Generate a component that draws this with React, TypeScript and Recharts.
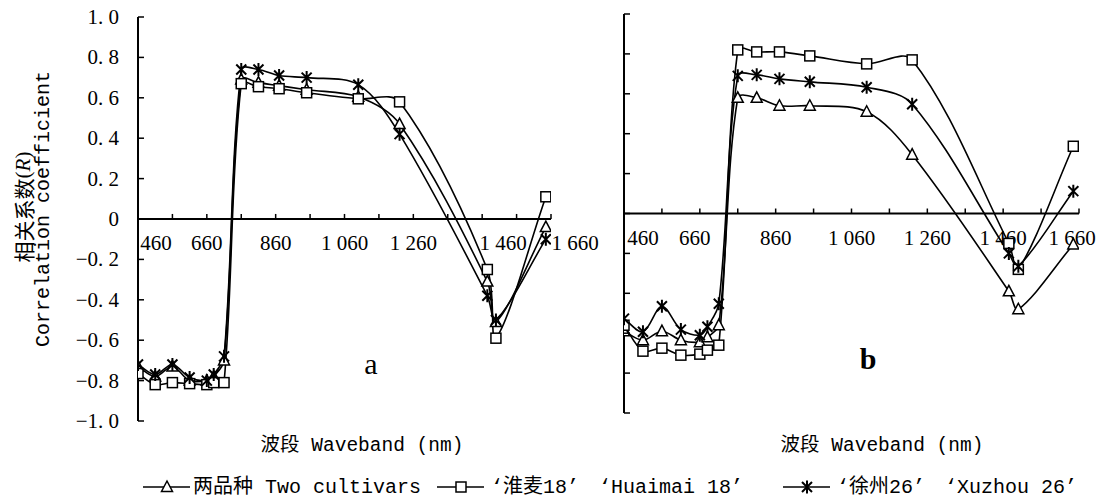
import React from 'react';
import { LineChart, Line, XAxis, YAxis, ReferenceLine, ReferenceDot } from 'recharts';

// ---------- data ----------
const wavelengths = [460, 510, 560, 610, 660, 680, 710, 760, 810, 870, 950, 1100, 1220, 1475, 1500, 1645];

// panel a
const aTwoCultivars = [-0.73, -0.78, -0.73, -0.8, -0.8, -0.78, -0.7, 0.69, 0.675, 0.66, 0.64, 0.605, 0.47, -0.31, -0.51, -0.04];
const aHuaimai18 = [-0.765, -0.82, -0.81, -0.815, -0.82, -0.81, -0.81, 0.67, 0.655, 0.645, 0.625, 0.595, 0.58, -0.25, -0.59, 0.11];
const aXuzhou26 = [-0.72, -0.77, -0.72, -0.785, -0.8, -0.77, -0.68, 0.74, 0.74, 0.71, 0.7, 0.665, 0.42, -0.38, -0.5, -0.1];

// panel b
const bTwoCultivars = [-0.59, -0.635, -0.59, -0.635, -0.645, -0.62, -0.56, 0.58, 0.58, 0.54, 0.54, 0.51, 0.295, -0.39, -0.48, -0.155];
const bHuaimai18 = [-0.56, -0.69, -0.675, -0.71, -0.705, -0.685, -0.66, 0.82, 0.81, 0.81, 0.79, 0.75, 0.77, -0.15, -0.28, 0.337];
const bXuzhou26 = [-0.527, -0.593, -0.465, -0.582, -0.61, -0.568, -0.452, 0.69, 0.695, 0.675, 0.66, 0.633, 0.548, -0.2, -0.265, 0.112];

const yTicks = [-1, -0.8, -0.6, -0.4, -0.2, 0, 0.2, 0.4, 0.6, 0.8, 1];
const xTickMarks = [460, 560, 660, 760, 860, 960, 1060, 1160, 1260, 1360, 1460, 1560, 1660];
const xTickLabels = [460, 660, 860, 1060, 1260, 1460, 1660];

const seriesNames = ['两品种 Two cultivars', '‘淮麦18’ ‘Huaimai 18’', '‘徐州26’ ‘Xuzhou 26’'];
const xAxisTitle = '波段 Waveband (nm)';
const yTitleCn = '相关系数';
const yTitleEn = 'Correlation coefficient';

// ---------- styles ----------
const MONO = "'Liberation Mono', 'Noto Sans CJK SC', monospace";
const SERIF = "'Liberation Serif', 'Noto Sans CJK SC', serif";
const CJK = "'Noto Sans CJK SC', sans-serif";

// label nudges (px) for the hand-placed tick labels of each panel
const labelShiftA: Record<number, number> = { 460: 18, 1460: 21, 1660: 24 };
const labelShiftB: Record<number, number> = { 460: 19, 660: -5, 1660: -7 };

const buildRows = (two: number[], huai: number[], xu: number[]) =>
  wavelengths.map((x, i) => ({ x, two: two[i], huai: huai[i], xu: xu[i] }));

const rowsA = buildRows(aTwoCultivars, aHuaimai18, aXuzhou26);
const rowsB = buildRows(bTwoCultivars, bHuaimai18, bXuzhou26);

// Excel-like smoothed line (chord-weighted Catmull-Rom)
function excelSmooth(context: any) {
  let pts: number[][] = [];
  return {
    areaStart() {},
    areaEnd() {},
    lineStart() {
      pts = [];
    },
    point(x: number, y: number) {
      pts.push([+x, +y]);
    },
    lineEnd() {
      const n = pts.length;
      if (!n) return;
      context.moveTo(pts[0][0], pts[0][1]);
      for (let i = 0; i < n - 1; i++) {
        const p0 = pts[i - 1] || pts[i];
        const p1 = pts[i];
        const p2 = pts[i + 1];
        const p3 = pts[i + 2] || pts[i + 1];
        const d01 = Math.hypot(p1[0] - p0[0], p1[1] - p0[1]);
        const d12 = Math.hypot(p2[0] - p1[0], p2[1] - p1[1]);
        const d23 = Math.hypot(p3[0] - p2[0], p3[1] - p2[1]);
        const f1 = d01 + d12 > 0 ? d12 / (3 * (d01 + d12)) : 0;
        const f2 = d12 + d23 > 0 ? d12 / (3 * (d12 + d23)) : 0;
        context.bezierCurveTo(
          p1[0] + (p2[0] - p0[0]) * f1,
          p1[1] + (p2[1] - p0[1]) * f1,
          p2[0] - (p3[0] - p1[0]) * f2,
          p2[1] - (p3[1] - p1[1]) * f2,
          p2[0],
          p2[1]
        );
      }
    },
  };
}

// ---------- markers ----------
const triPath = (cx: number, cy: number) =>
  `M${cx},${cy - 6} L${cx + 5.5},${cy + 4.5} L${cx - 5.5},${cy + 4.5} Z`;
const starPath = (cx: number, cy: number) =>
  `M${cx - 5},${cy - 5} L${cx + 5},${cy + 5} M${cx + 5},${cy - 5} L${cx - 5},${cy + 5} M${cx},${cy - 6.5} L${cx},${cy + 6.5}`;

const TriangleDot = (p: any) => {
  if (p.cx == null || p.cy == null) return <g key={`t-${p.index}`} />;
  return <path key={`t-${p.index}`} d={triPath(p.cx, p.cy)} fill="#fff" stroke="#000" strokeWidth={1.5} />;
};
const SquareDot = (p: any) => {
  if (p.cx == null || p.cy == null) return <g key={`s-${p.index}`} />;
  return <rect key={`s-${p.index}`} x={p.cx - 5} y={p.cy - 5} width={10} height={10} fill="#fff" stroke="#000" strokeWidth={1.5} />;
};
const StarDot = (p: any) => {
  if (p.cx == null || p.cy == null) return <g key={`x-${p.index}`} />;
  return <path key={`x-${p.index}`} d={starPath(p.cx, p.cy)} fill="none" stroke="#000" strokeWidth={2} />;
};

const fmtY = (v: number) => {
  if (Math.abs(v) < 1e-9) return '0';
  const s = Math.abs(v).toFixed(1).replace('.', '. ');
  return v < 0 ? `−${s}` : s;
};
const fmtX = (v: number) => (v >= 1000 ? `${Math.floor(v / 1000)} ${String(v % 1000).padStart(3, '0')}` : String(v));

const makeYTick = (showLabel: boolean) => (props: any) => {
  const { x, y, payload, index } = props;
  return (
    <g key={`yt-${index}`}>
      <line x1={x} x2={x + 6} y1={y} y2={y} stroke="#000" strokeWidth={1.5} />
      {showLabel && (
        <text x={x - 19} y={y} textAnchor="end" dominantBaseline="central" fontFamily={SERIF} fontSize={21} fill="#000">
          {fmtY(payload.value)}
        </text>
      )}
    </g>
  );
};

const renderPanel = (shifts: Record<number, number>, showYLabels: boolean) => {
  const children: any[] = [];
  children.push(
    <XAxis key="xa" dataKey="x" type="number" domain={[460, 1660]} hide allowDataOverflow />,
    <YAxis
      key="ya"
      type="number"
      domain={[-1, 1]}
      ticks={yTicks}
      interval={0}
      width={showYLabels ? 138 : 64}
      tickSize={0}
      tickMargin={0}
      tickLine={false}
      axisLine={{ stroke: '#000', strokeWidth: 2 }}
      tick={makeYTick(showYLabels)}
    />,
    <ReferenceLine key="zero" y={0} stroke="#000" strokeWidth={2} />
  );
  xTickMarks.forEach((v) => {
    children.push(
      <ReferenceLine
        key={`xt-${v}`}
        segment={[
          { x: v, y: 0 },
          { x: v, y: 0.025 },
        ]}
        stroke="#000"
        strokeWidth={1.5}
      />
    );
  });
  xTickLabels.forEach((v) => {
    children.push(
      <ReferenceDot
        key={`xl-${v}`}
        x={v}
        y={0}
        r={0}
        fill="none"
        stroke="none"
        label={(lp: any) => {
          const vb = lp.viewBox || {};
          const cx = (vb.x ?? 0) + (vb.width ?? 0) / 2;
          const cy = (vb.y ?? 0) + (vb.height ?? 0) / 2;
          return (
            <text
              x={cx + (shifts[v] || 0)}
              y={cy + 24}
              textAnchor="middle"
              dominantBaseline="central"
              fontFamily={SERIF}
              fontSize={21}
              fill="#000"
            >
              {fmtX(v)}
            </text>
          );
        }}
      />
    );
  });
  children.push(
    <Line key="l1" dataKey="two" type={excelSmooth as any} stroke="#000" strokeWidth={1.6} dot={TriangleDot} activeDot={false} isAnimationActive={false} />,
    <Line key="l2" dataKey="huai" type={excelSmooth as any} stroke="#000" strokeWidth={1.6} dot={SquareDot} activeDot={false} isAnimationActive={false} />,
    <Line key="l3" dataKey="xu" type={excelSmooth as any} stroke="#000" strokeWidth={1.6} dot={StarDot} activeDot={false} isAnimationActive={false} />
  );
  return children;
};

// legend entry; curly quotes get a few px of extra room like the full-width originals
const LegendItem = ({ x, y, kind, label }: { x: number; y: number; kind: string; label: string }) => {
  const mx = x + 24;
  let marker: any = null;
  if (kind === 'tri') marker = <path d={triPath(mx, y)} fill="#fff" stroke="#000" strokeWidth={1.5} />;
  if (kind === 'sq') marker = <rect x={mx - 5} y={y - 5} width={10} height={10} fill="#fff" stroke="#000" strokeWidth={1.5} />;
  if (kind === 'star') marker = <path d={starPath(mx, y)} fill="none" stroke="#000" strokeWidth={2} />;
  const parts = label.split(/([‘’])/).filter((s) => s.length);
  let pendingDx = 0;
  const spans = parts.map((s, i) => {
    let dx = pendingDx;
    pendingDx = 0;
    if (s === '‘') dx += 4;
    if (s === '’') pendingDx = 4;
    return (
      <tspan key={i} dx={dx || undefined}>
        {s}
      </tspan>
    );
  });
  return (
    <g>
      <line x1={x} x2={x + 47} y1={y} y2={y} stroke="#000" strokeWidth={1.6} />
      {marker}
      <text x={x + 50} y={y} dominantBaseline="central" fontFamily={MONO} fontSize={20} fill="#000">
        {spans}
      </text>
    </g>
  );
};

export default function App() {
  return (
    <div
      style={{
        position: 'absolute',
        left: 0,
        top: 0,
        width: 1097,
        height: 497,
        background: '#fff',
        overflow: 'hidden',
      }}
    >
      <div style={{ position: 'absolute', left: 0, top: 0 }}>
        <LineChart width={620} height={440} data={rowsA} margin={{ top: 17, right: 69, bottom: 19, left: 0 }}>
          {renderPanel(labelShiftA, true)}
        </LineChart>
      </div>
      <div style={{ position: 'absolute', left: 560, top: 0 }}>
        <LineChart width={537} height={440} data={rowsB} margin={{ top: 14, right: 18, bottom: 27, left: 0 }}>
          {renderPanel(labelShiftB, false)}
        </LineChart>
      </div>
      <svg
        width={1097}
        height={497}
        style={{ position: 'absolute', left: 0, top: 0, pointerEvents: 'none' }}
      >
        {/* y-axis title */}
        <text
          transform="translate(23,207) rotate(-90)"
          textAnchor="middle"
          dominantBaseline="central"
          fontFamily={CJK}
          fontSize={21}
          fill="#000"
        >
          {yTitleCn}
          <tspan fontFamily={SERIF}>(</tspan>
          <tspan fontFamily={SERIF} fontStyle="italic">R</tspan>
          <tspan fontFamily={SERIF}>)</tspan>
        </text>
        <text
          transform="translate(43,209) rotate(-90)"
          textAnchor="middle"
          dominantBaseline="central"
          fontFamily={MONO}
          fontSize={20}
          fill="#000"
        >
          {yTitleEn}
        </text>
        {/* panel letters */}
        <text x={371} y={363} textAnchor="middle" dominantBaseline="central" fontFamily={SERIF} fontSize={30} fill="#000">
          a
        </text>
        <text x={868} y={358} textAnchor="middle" dominantBaseline="central" fontFamily={SERIF} fontWeight="bold" fontSize={30} fill="#000">
          b
        </text>
        {/* x-axis titles */}
        <text x={362} y={446} textAnchor="middle" dominantBaseline="central" fontFamily={MONO} fontSize={19.5} fill="#000">
          {xAxisTitle}
        </text>
        <text x={882} y={446} textAnchor="middle" dominantBaseline="central" fontFamily={MONO} fontSize={19.5} fill="#000">
          {xAxisTitle}
        </text>
        {/* legend */}
        <LegendItem x={143} y={487} kind="tri" label={seriesNames[0]} />
        <LegendItem x={437} y={487} kind="sq" label={seriesNames[1]} />
        <LegendItem x={783} y={487} kind="star" label={seriesNames[2]} />
      </svg>
    </div>
  );
}
